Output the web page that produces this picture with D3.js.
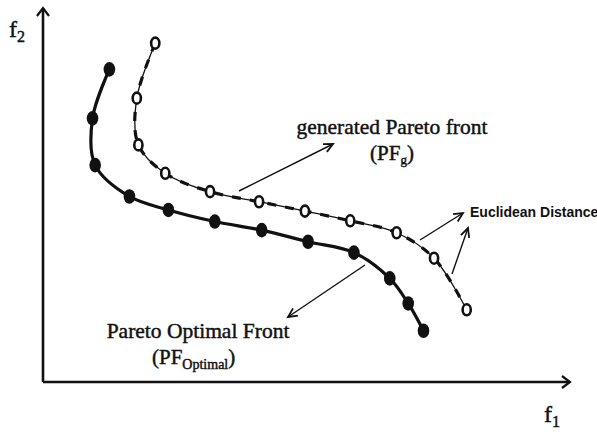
<!DOCTYPE html>
<html><head><meta charset="utf-8">
<script src="https://cdn.jsdelivr.net/npm/d3@7/dist/d3.min.js"></script>
<style>
html,body{margin:0;padding:0;background:#fff;}
svg{display:block;}
</style></head>
<body>
<svg id="c" width="597" height="434"></svg>
<script>
// Pareto Optimal Front (filled markers) (f1, f2 in arbitrary units)
const optimalF1 = [1.26, 0.94, 0.99, 1.64, 2.38, 3.26, 4.15, 5.03, 5.90, 6.58, 6.93, 7.22];
const optimalF2 = [8.36, 7.05, 5.80, 4.96, 4.60, 4.29, 4.06, 3.75, 3.46, 2.77, 2.10, 1.37];
// generated Pareto front (open markers)
const generatedF1 = [2.13, 1.78, 1.81, 2.32, 3.17, 4.10, 4.97, 5.83, 6.71, 7.42, 8.04];
const generatedF2 = [9.06, 7.59, 6.34, 5.58, 5.09, 4.82, 4.57, 4.31, 3.99, 3.31, 1.93];
const axisLabels = ["f1", "f2"];

const svg = d3.select("#c");
const x = d3.scaleLinear().domain([0, 10]).range([43, 570]);
const y = d3.scaleLinear().domain([0, 10]).range([382, 8]);

const optimal = optimalF1.map((v, i) => [v, optimalF2[i]]);
const generated = generatedF1.map((v, i) => [v, generatedF2[i]]);

const line = d3.line().x(d => x(d[0])).y(d => y(d[1])).curve(d3.curveCatmullRom.alpha(0.5));

// axes
const ax = svg.append("g").attr("stroke", "#111").attr("fill", "none");
ax.append("line").attr("x1", x(0)).attr("y1", y(0)).attr("x2", x(0)).attr("y2", y(10)).attr("stroke-width", 2.6);
ax.append("line").attr("x1", x(0)).attr("y1", y(0)).attr("x2", x(10)).attr("y2", y(0)).attr("stroke-width", 2.6);
ax.append("path").attr("d", `M${x(0)-6},${y(10)+8} L${x(0)},${y(10)} L${x(0)+6},${y(10)+8}`).attr("stroke-width", 2.2);
ax.append("path").attr("d", `M${x(10)-8},${y(0)-6} L${x(10)},${y(0)} L${x(10)-8},${y(0)+6}`).attr("stroke-width", 2.2);

const serif = "'Liberation Serif', 'Times New Roman', serif";
function txt(xp, yp, size) {
  return svg.append("text").attr("x", xp).attr("y", yp).attr("font-family", serif).attr("font-size", size)
    .attr("fill", "#111").attr("stroke", "#111").attr("stroke-width", 0.45);
}
// axis labels
const f2 = txt(9, 37, 24);
f2.append("tspan").text(axisLabels[1][0]);
f2.append("tspan").attr("font-size", 16).attr("dy", 5).text(axisLabels[1][1]);
const f1 = txt(544, 422, 24);
f1.append("tspan").text(axisLabels[0][0]);
f1.append("tspan").attr("font-size", 16).attr("dy", 5).text(axisLabels[0][1]);

// generated front: thin solid + thick dashes
svg.append("path").attr("d", line(generated)).attr("fill", "none").attr("stroke", "#111").attr("stroke-width", 1.3);
svg.append("path").attr("d", line(generated)).attr("fill", "none").attr("stroke", "#111").attr("stroke-width", 3.2).attr("stroke-dasharray", "9,9");

// optimal front
svg.append("path").attr("d", line(optimal)).attr("fill", "none").attr("stroke", "#111").attr("stroke-width", 3.2);

svg.append("g").selectAll("ellipse").data(optimal).join("ellipse")
  .attr("cx", d => x(d[0])).attr("cy", d => y(d[1])).attr("rx", 5.8).attr("ry", 7.3).attr("fill", "#111");
svg.append("g").selectAll("ellipse").data(generated).join("ellipse")
  .attr("cx", d => x(d[0])).attr("cy", d => y(d[1])).attr("rx", 4.1).attr("ry", 5.5)
  .attr("fill", "#fff").attr("stroke", "#111").attr("stroke-width", 2.6);

// arrows
function arrow(x1, y1, x2, y2) {
  const a = Math.atan2(y2 - y1, x2 - x1), L = 10, w = 0.45;
  const g = svg.append("g").attr("stroke", "#111").attr("fill", "none").attr("stroke-width", 1.4);
  g.append("line").attr("x1", x1).attr("y1", y1).attr("x2", x2).attr("y2", y2);
  g.append("path").attr("d", `M${x2 - L*Math.cos(a - w)},${y2 - L*Math.sin(a - w)} L${x2},${y2} L${x2 - L*Math.cos(a + w)},${y2 - L*Math.sin(a + w)}`).attr("stroke-width", 1.8);
}
arrow(239, 191, 333, 144);
arrow(420, 240, 463, 213);
arrow(452, 274, 468, 228);
arrow(365, 265, 288, 317);

// labels
txt(392, 134, 21.5).attr("text-anchor", "middle").text("generated Pareto front");
const pfg = txt(392, 160, 21).attr("text-anchor", "middle");
pfg.append("tspan").text("(PF");
pfg.append("tspan").attr("font-size", 13).attr("dy", 4).text("g");
pfg.append("tspan").attr("dy", -4).text(")");

svg.append("text").attr("x", 470).attr("y", 217).attr("font-family", "'Liberation Sans', Arial, sans-serif").attr("font-weight", "bold").attr("font-size", 14).attr("fill", "#111").text("Euclidean Distance");

txt(198, 338, 21.5).attr("text-anchor", "middle").text("Pareto Optimal Front");
const pfo = txt(152, 364, 21);
pfo.append("tspan").text("(PF");
pfo.append("tspan").attr("font-size", 14).attr("dy", 5).text("Optimal");
pfo.append("tspan").attr("dy", -5).text(")");
</script>
</body></html>
